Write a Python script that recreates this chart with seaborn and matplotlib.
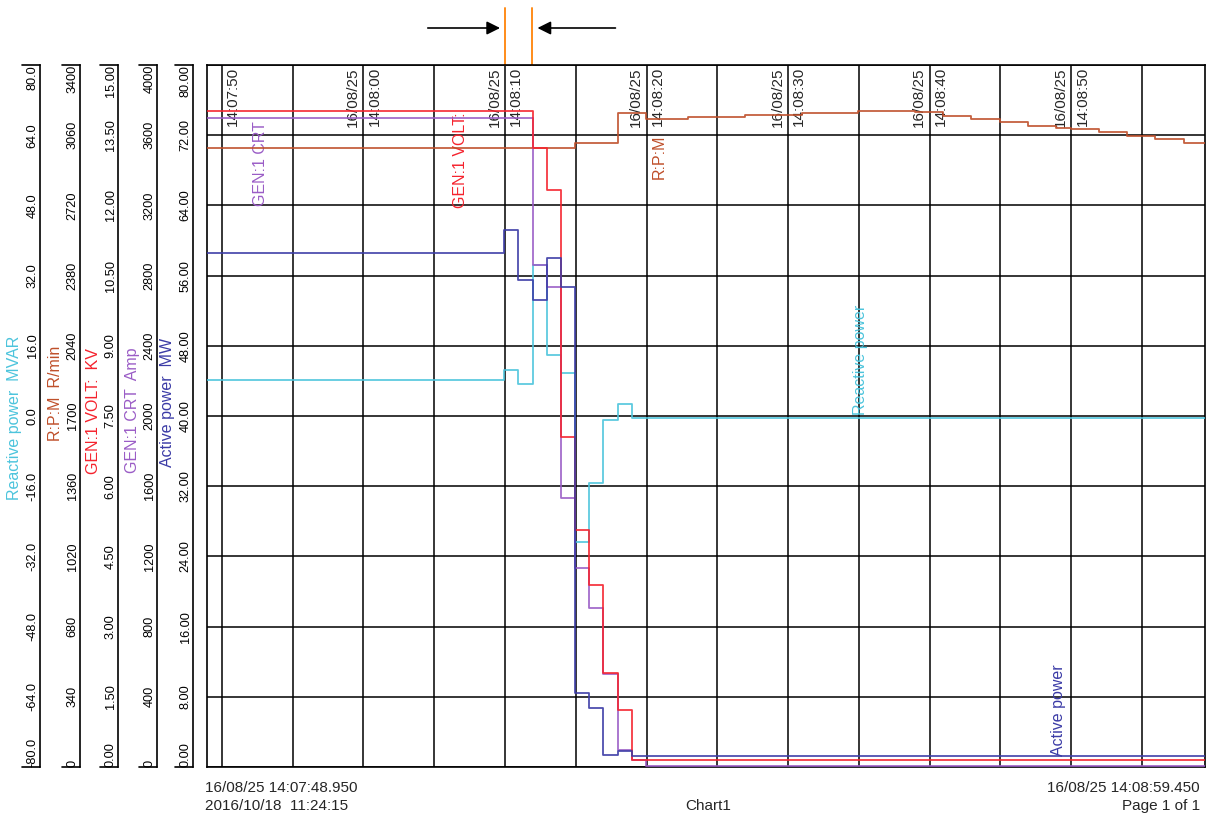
import numpy as np
import pandas as pd
import matplotlib
matplotlib.use("Agg")
import matplotlib.pyplot as plt
import matplotlib.transforms as mtrans
from matplotlib import font_manager
import seaborn as sns

sns.set_theme(style="white")
_names = {f.name for f in font_manager.fontManager.ttflist}
FONT = "Liberation Sans" if "Liberation Sans" in _names else "DejaVu Sans"
NARROW = "Liberation Sans Narrow" if "Liberation Sans Narrow" in _names else FONT
plt.rcParams["font.family"] = [FONT, "DejaVu Sans"]

# ---------------- data (time = seconds after 14:07:00, 16/08/25) ----------------
T_START, T_END = 48.95, 119.45
TIME_TICKS = [50, 60, 70, 80, 90, 100, 110]
TIME_LABELS = ["14:07:50", "14:08:00", "14:08:10", "14:08:20", "14:08:30", "14:08:40", "14:08:50"]
DATE_LABEL = "16/08/25"
GRID_X = [50, 55, 60, 65, 70, 75, 80, 85, 90, 95, 100, 105, 110, 115]

# Active power (MW)
MW_T = [48.95, 69.95, 70.95, 71.95, 72.95, 73.95, 74.95, 75.95, 76.95, 77.95, 78.95]
MW_V = [58.6, 61.2, 55.5, 53.2, 58.0, 54.7, 8.4, 6.7, 1.4, 1.8, 1.2]
# Reactive power (MVAR)
MVAR_T = [48.95, 69.95, 70.95, 71.95, 72.95, 73.95, 74.95, 75.95, 76.95, 77.95, 78.95]
MVAR_V = [8.2, 10.5, 7.3, 34.4, 13.9, 9.8, -28.7, -15.3, -0.9, 2.7, -0.4]
# GEN:1 CRT (Amp)
AMP_T = [48.95, 71.95, 72.95, 73.95, 74.95, 75.95, 76.95, 77.95, 78.95, 79.95]
AMP_V = [3698, 2860, 2735, 1533, 1134, 906, 530, 95, 40, 6]
# GEN:1 VOLT (KV)
KV_T = [48.95, 71.95, 72.95, 73.95, 74.95, 75.95, 76.95, 77.95, 78.95]
KV_V = [14.02, 13.23, 12.33, 7.05, 5.06, 3.89, 2.01, 1.22, 0.15]
# R:P:M (R/min)
RPM_T = [48.95, 74.95, 77.95, 79.95, 82.95, 86.95, 90.95, 94.95, 98.95, 100.95, 102.95,
         104.95, 106.95, 108.95, 109.95, 111.95, 113.95, 115.95, 117.95]
RPM_V = [2998, 3022, 3168, 3139, 3148, 3158, 3168, 3177, 3172, 3153, 3139,
         3124, 3105, 3095, 3091, 3076, 3057, 3042, 3022]

# scales: (label, unit, lo, hi, fmt, color)
C_MVAR, C_RPM, C_KV, C_AMP, C_MW = "#4cc4dc", "#bf4f2a", "#f5222d", "#9a5cc6", "#3b3ba6"
SCALES = [
    ("Reactive power", "MVAR", -80.0, 80.0, "{:.1f}", C_MVAR),
    ("R:P:M", "R/min", 0, 3400, "{:.0f}", C_RPM),
    ("GEN:1 VOLT:", "KV", 0.0, 15.0, "{:.2f}", C_KV),
    ("GEN:1 CRT", "Amp", 0, 4000, "{:.0f}", C_AMP),
    ("Active power", "MW", 0.0, 80.0, "{:.2f}", C_MW),
]
SPINE_X = [40, 80, 118, 157, 193]
LABEL_Y = [418, 393, 411, 410, 402]

# ---------------- figure ----------------
W, H = 1211, 817
fig = plt.figure(figsize=(W / 100, H / 100), dpi=100)
fig.patch.set_facecolor("white")
L, R, T, B = 207, 1205, 65, 767
def fx(x): return x / W
def fy(y): return 1 - y / H

ax = fig.add_axes([fx(L), fy(B), fx(R) - fx(L), fy(T) - fy(B)])
ax.set_facecolor("white")
ax.set_xlim(T_START, T_END)
ax.set_ylim(0, 80)
ax.set_xticks(GRID_X)
ax.set_yticks(np.arange(0, 81, 8))
ax.tick_params(length=0, labelbottom=False, labelleft=False)
ax.grid(True, color="black", lw=1.1)
for s in ax.spines.values():
    s.set_color("black"); s.set_linewidth(1.2); s.set_visible(True)
ax.set_xlabel(""); ax.set_ylabel("")

def steps(ts, vs):
    return pd.DataFrame({"t": list(ts) + [T_END], "v": list(vs) + [vs[-1]]})

series = [
    (RPM_T, RPM_V, 0, 3400, C_RPM),
    (MVAR_T, MVAR_V, -80, 80, C_MVAR),
    (AMP_T, AMP_V, 0, 4000, C_AMP),
    (KV_T, KV_V, 0, 15, C_KV),
    (MW_T, MW_V, 0, 80, C_MW),
]
for ts, vs, lo, hi, col in series:
    sax = ax.twinx()
    sns.lineplot(data=steps(ts, vs), x="t", y="v", drawstyle="steps-post",
                 color=col, lw=1.3, ax=sax, alpha=0.9)
    sax.set_ylim(lo, hi)
    sax.set_axis_off()
ax.set_xlim(T_START, T_END)

# time labels inside the top of the chart
for t, lab in zip(TIME_TICKS, TIME_LABELS):
    if t != TIME_TICKS[0]:
        ax.annotate(DATE_LABEL, xy=(t, 1), xycoords=("data", "axes fraction"),
                    xytext=(-2.5, -1.5), textcoords="offset points", rotation=90,
                    ha="right", va="top", fontsize=11)
    ax.annotate(lab, xy=(t, 1), xycoords=("data", "axes fraction"),
                xytext=(3, -1.5), textcoords="offset points", rotation=90,
                ha="left", va="top", fontsize=11)

# curve labels
CURVE_LABELS = [("GEN:1 CRT", 52.7, 68.8, C_AMP), ("GEN:1 VOLT:", 66.85, 69.1, C_KV),
                ("R:P:M", 80.9, 69.6, C_RPM), ("Reactive power", 95.1, 46.4, C_MVAR),
                ("Active power", 109.1, 6.5, C_MW)]
for txt, t, y, col in CURVE_LABELS:
    ax.text(t, y, txt, rotation=90, ha="center", va="center", color=col, fontsize=11.5)

# scale axes on the left
for (name, unit, lo, hi, fmt, col), sx, ly in zip(SCALES, SPINE_X, LABEL_Y):
    a = fig.add_axes([fx(sx), fy(B), 0.0005, fy(T) - fy(B)])
    a.patch.set_visible(False)
    for k in ("right", "top", "bottom"):
        a.spines[k].set_visible(False)
    a.spines["left"].set_color("black"); a.spines["left"].set_linewidth(1.2)
    a.set_xticks([])
    a.set_ylim(lo, hi)
    ticks = np.linspace(lo, hi, 11)
    a.set_yticks(ticks)
    a.set_yticklabels([fmt.format(v) for v in ticks], fontsize=9.2, family=[NARROW, FONT])
    a.tick_params(axis="y", direction="inout", length=5, width=1, pad=-1.5,
                  labelrotation=90, colors="black")
    labs = a.get_yticklabels()
    for i, lb in enumerate(labs):
        lb.set_va("bottom" if i == 0 else ("top" if i == len(labs) - 1 else "center"))
    for yy in (T, B):
        fig.add_artist(plt.Line2D([fx(sx - 18), fx(sx)], [fy(yy), fy(yy)], color="black", lw=1.2))
    fig.text(fx(sx - 25), fy(ly), f"{name}  {unit}", rotation=90, ha="center", va="center",
             color=col, fontsize=11.5)

# marker arrows and cursor lines above chart
bt = mtrans.blended_transform_factory(ax.transData, ax.transAxes)
ytop = (B - 28) / (B - T)
ax.annotate("", xy=(69.85, ytop), xytext=(64.35, ytop), xycoords=bt, textcoords=bt,
            arrowprops=dict(arrowstyle="-|>", color="black", lw=1.2, mutation_scale=20),
            annotation_clip=False)
ax.annotate("", xy=(72.1, ytop), xytext=(78.0, ytop), xycoords=bt, textcoords=bt,
            arrowprops=dict(arrowstyle="-|>", color="black", lw=1.2, mutation_scale=20),
            annotation_clip=False)
y_or = (B - 8) / (B - T)
for tc in (70.0, 71.92):
    ax.plot([tc, tc], [1.0, y_or], transform=bt, color="#ff8c1a", lw=1.4, clip_on=False)

# footer
fig.text(fx(205), fy(788), "16/08/25 14:07:48.950", ha="left", va="center", fontsize=11)
fig.text(fx(205), fy(806), "2016/10/18  11:24:15", ha="left", va="center", fontsize=11)
fig.text(fx(708), fy(806), "Chart1", ha="center", va="center", fontsize=11)
fig.text(fx(1200), fy(788), "16/08/25 14:08:59.450", ha="right", va="center", fontsize=11)
fig.text(fx(1200), fy(806), "Page 1 of 1", ha="right", va="center", fontsize=11)

fig.savefig("out.png", dpi=100)
